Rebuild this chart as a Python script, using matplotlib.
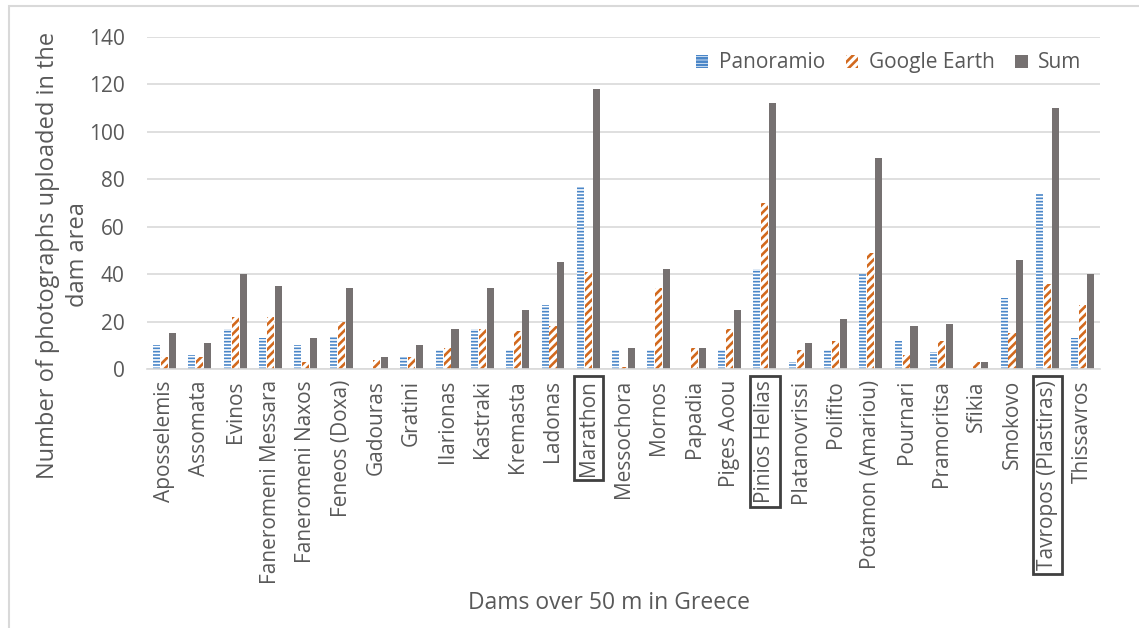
import matplotlib.pyplot as plt
import matplotlib.patches as mpatches
import numpy as np

plt.rcParams['font.family'] = ['Open Sans', 'DejaVu Sans']
plt.rcParams['hatch.linewidth'] = 1.9

# dams and photo counts
dams = ["Aposselemis", "Assomata", "Evinos", "Faneromeni Messara", "Faneromeni Naxos",
        "Feneos (Doxa)", "Gadouras", "Gratini", "Ilarionas", "Kastraki", "Kremasta",
        "Ladonas", "Marathon", "Messochora", "Mornos", "Papadia", "Piges Aoou",
        "Pinios Helias", "Platanovrissi", "Polifito", "Potamon (Amariou)", "Pournari",
        "Pramoritsa", "Sfikia", "Smokovo", "Tavropos (Plastiras)", "Thissavros"]
panoramio = [10, 6, 17, 13, 10, 14, 0, 5, 8, 17, 8, 27, 77, 8, 8, 0, 8,
             42, 3, 8, 40, 12, 7, 0, 30, 74, 13]
google_earth = [5, 5, 22, 22, 3, 20, 4, 5, 9, 17, 16, 18, 41, 1, 34, 9, 17,
                70, 8, 12, 49, 6, 12, 3, 15, 36, 27]
total = [15, 11, 40, 35, 13, 34, 5, 10, 17, 34, 25, 45, 118, 9, 42, 9, 25,
         112, 11, 21, 89, 18, 19, 3, 46, 110, 40]
boxed = ["Marathon", "Pinios Helias", "Tavropos (Plastiras)"]

blue = '#4a86c8'
orange = '#d2691e'
grey = '#767171'
text_c = '#595959'

fig = plt.figure(figsize=(11.39, 6.28), dpi=100)
ax = fig.add_axes([0.129, 0.4124, 0.837, 0.5286])

x = np.arange(len(dams))
w = 0.2
step = 0.225
with plt.rc_context({'hatch.linewidth': 1.2}):
    pbars = ax.bar(x - step, panoramio, w, color='white', edgecolor=blue,
                   hatch='-----', lw=0)
    for p in pbars:
        if hasattr(p, 'set_hatch_linewidth'):
            p.set_hatch_linewidth(1.2)
ax.bar(x, google_earth, w, color='white', edgecolor=orange, hatch='////', lw=0)
ax.bar(x + step, total, w, color=grey, lw=0)

ax.set_xlim(-0.5, len(dams) - 0.5)
ax.set_ylim(0, 140)
ax.set_yticks(range(0, 141, 20))
ax.yaxis.grid(True, color='#d9d9d9', lw=1.2)
ax.set_axisbelow(True)
for s in ['top', 'right', 'left']:
    ax.spines[s].set_visible(False)
ax.spines['bottom'].set_color('#d9d9d9')
ax.spines['bottom'].set_linewidth(1.2)
ax.tick_params(length=0, colors=text_c, labelsize=15)
ax.tick_params(axis='y', pad=16)
ax.tick_params(axis='x', pad=8)
ax.set_xticks(x)
ax.set_xticklabels(dams, rotation=90, va='top')
for lab in ax.get_xticklabels():
    if lab.get_text() in boxed:
        lab.set_bbox(dict(facecolor='none', edgecolor='#404040', lw=2,
                          boxstyle='square,pad=0.2'))

fig.text(63 / 1139, 1 - 255 / 628, "Number of photographs uploaded in the\ndam area",
         rotation=90, ha='center', va='center', fontsize=17, color=text_c,
         linespacing=1.35, multialignment='center')
fig.text(0.535, 0.03, "Dams over 50 m in Greece", fontsize=16.5, color=text_c,
         ha='center')

handles = [mpatches.Patch(facecolor='white', edgecolor=blue, hatch='-----', lw=0),
           mpatches.Patch(facecolor='white', edgecolor=orange, hatch='////', lw=0),
           mpatches.Patch(facecolor=grey, lw=0)]
if hasattr(handles[0], 'set_hatch_linewidth'):
    handles[0].set_hatch_linewidth(1.2)
ax.legend(handles, ["Panoramio", "Google Earth", "Sum"], ncol=3, frameon=False,
          loc='upper right', bbox_to_anchor=(1.0, 1.01), fontsize=15,
          labelcolor=text_c, handlelength=0.6, handleheight=0.6,
          handletextpad=0.5, columnspacing=1.0)

# outer chart border
fig.patches.append(mpatches.Rectangle((8.5 / 1139, -0.1), 1.2, 1.1 - 6 / 628,
                                      transform=fig.transFigure, fill=False,
                                      edgecolor='#d9d9d9', lw=1.5))

fig.savefig('out.png', dpi=100)
